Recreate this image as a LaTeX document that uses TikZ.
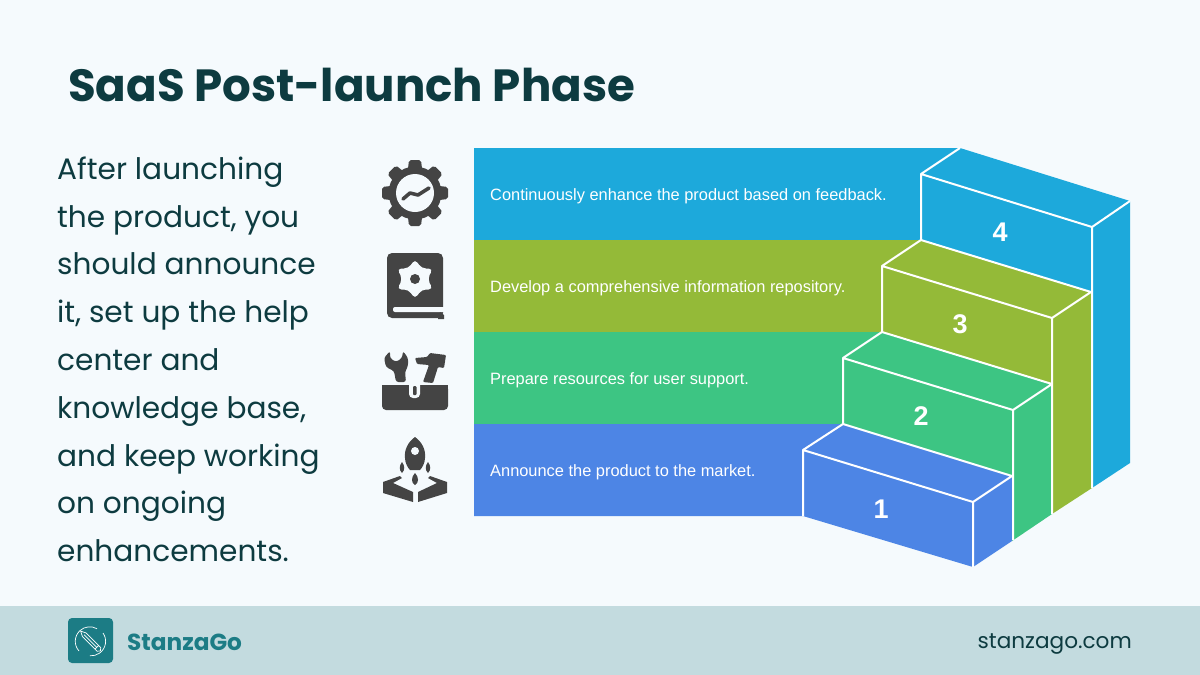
\documentclass[tikz,border=0pt]{standalone}
\usepackage{fontspec}
\setmainfont{Poppins}
\newfontfamily\bandfont{Liberation Sans}
\definecolor{bgc}{HTML}{F5FAFD}
\definecolor{footc}{HTML}{C3DBDF}
\definecolor{inkc}{HTML}{0D3B40}
\definecolor{tealc}{HTML}{1C7C85}
\definecolor{cyanc}{HTML}{1DA9DB}
\definecolor{olivec}{HTML}{94BA38}
\definecolor{greenc}{HTML}{3DC583}
\definecolor{bluec}{HTML}{4D85E5}
\definecolor{iconc}{HTML}{444444}
\tikzset{
  edge/.style={draw=white,line width=2pt,line join=round},
  bandtext/.style={anchor=base west,inner sep=0pt,text=white,font=\bandfont\fontsize{16.4}{16.4}\selectfont},
  numtext/.style={anchor=center,text=white,font=\bandfont\bfseries\fontsize{27}{27}\selectfont},
  icon/.style={fill=iconc,draw=none}
}
\begin{document}
\begin{tikzpicture}[x=1pt,y=-1pt]
\useasboundingbox (0,0) rectangle (1200,675);
\fill[bgc] (0,0) rectangle (1200,675);
\fill[footc] (0,606) rectangle (1200,675);
\node[anchor=base west,inner sep=0pt,text=inkc,font=\bfseries\fontsize{45.1}{45.1}\selectfont] (title) at (68,101) {SaaS Post-launch Phase};
\node[anchor=north west,align=left,inner sep=0pt,text=inkc,font=\fontsize{29.6}{47.8}\selectfont] (body) at (57,156.5) {After launching\\the product, you\\should announce\\it, set up the help\\center and\\knowledge base,\\and keep working\\on ongoing\\enhancements.};
% bands and steps
\fill[cyanc] (474,148) -- (960,148) -- (1130,201) -- (1130,463) -- (1092,488) -- (1092,292) -- (921,240) -- (474,240) -- cycle;
\fill[olivec] (474,240) -- (921,240) -- (1092,292) -- (1092,488) -- (1052,514) -- (1052,384) -- (882,332) -- (474,332) -- cycle;
\fill[greenc] (474,332) -- (882,332) -- (1052,384) -- (1052,514) -- (1012,541) -- (1012,476) -- (843,424) -- (474,424) -- cycle;
\fill[bluec] (474,424) -- (843,424) -- (1012,476) -- (1012,541) -- (973,567) -- (803,516) -- (474,516) -- cycle;
% step 4
\draw[edge] (921,240) -- (921,174) -- (960,148) (921,174) -- (1092,227) -- (1130,201) (1092,227) -- (1092,488);
% step 3
\draw[edge] (882,332) -- (882,266) -- (921,240) -- (1091,292) -- (1052,318) -- (882,266) (1052,318) -- (1052,514);
% step 2
\draw[edge] (843,424) -- (843,358) -- (882,332) -- (1052,384) -- (1013,410) -- (843,358) (1013,410) -- (1013,540);
% step 1
\draw[edge] (803,516) -- (803,450) -- (843,424) -- (1012,476) -- (973,502) -- (803,450) (973,502) -- (973,567);
\node[bandtext] (t4) at (490,200) {Continuously enhance the product based on feedback.};
\node[bandtext] (t3) at (490,292) {Develop a comprehensive information repository.};
\node[bandtext] (t2) at (490,384) {Prepare resources for user support.};
\node[bandtext] (t1) at (490,476) {Announce the product to the market.};
\node[numtext] (n4) at (1000,232) {4};
\node[numtext] (n3) at (960,324) {3};
\node[numtext] (n2) at (921,416) {2};
\node[numtext] (n1) at (881,509) {1};
% gear
\begin{scope}[shift={(415,193)}]
\foreach \a in {0,45,...,315}{
  \fill[iconc,rotate=\a,rounded corners=2pt] (-7.5,-20) -- (-6,-33) -- (6,-33) -- (7.5,-20) -- cycle;
}
\fill[iconc] (0,0) circle (26.5);
\fill[bgc] (0,0) circle (19);
\draw[iconc,line width=3.6pt,line cap=round,line join=round] (-12,6) -- (-5,0) -- (3,2) -- (14,-5);
\end{scope}
% book
\fill[icon,rounded corners=5pt] (387,253) rectangle (443,318);
\fill[bgc,rounded corners=2pt] (393,307) -- (446,307) -- (446,312) -- (393,312) -- cycle;
\fill[iconc] (440,312) -- (444,315) -- (444,319) -- (438,319) -- cycle;
\fill[bgc,rounded corners=4.5pt] (415,259) -- (421.5,268.5) -- (433,268.5) -- (427.5,279) -- (433,289.5) -- (421.5,289.5) -- (415,299) -- (408.5,289.5) -- (397,289.5) -- (402.5,279) -- (397,268.5) -- (408.5,268.5) -- cycle;
\fill[iconc] (415,279) circle (5);
% tools
\fill[icon,rounded corners=4pt] (382,385) -- (448,385) -- (448,410) -- (382,410) -- cycle;
\fill[icon] (382,385) rectangle (448,395);
\fill[bgc,rounded corners=4pt] (409,380) -- (420,380) -- (420,398) -- (409,398) -- cycle;
\fill[iconc,rounded corners=1pt] (413,386) rectangle (416.5,395);
\fill[icon,rounded corners=2.5pt] (390,351) -- (390,358) -- (396,362) -- (402,358) -- (403,351) -- (408,358) -- (408,366) -- (405,372) -- (406,382) -- (396,382) -- (394,371) -- (386,367) -- (384,358) -- cycle;
\fill[icon,rounded corners=1pt] (415,358) -- (427,357) -- (430,353) -- (446,355) -- (444,368) -- (438,367) -- (433,383) -- (423,382) -- (429,365) -- (417,364) -- cycle;
% rocket
\fill[icon] (415,437) .. controls (422,442) and (426,450) .. (425,458) .. controls (425,463) and (422,468) .. (420,470) -- (410,470) .. controls (408,468) and (405,463) .. (405,458) .. controls (404,450) and (408,442) .. (415,437) -- cycle;
\fill[bgc] (415,451) circle (4);
\fill[icon] (402,462) .. controls (399,466) and (399,470) .. (402,473) .. controls (405,470) and (405,466) .. (402,462) -- cycle;
\fill[icon] (428,462) .. controls (425,466) and (425,470) .. (428,473) .. controls (431,470) and (431,466) .. (428,462) -- cycle;
\fill[icon] (415,473) .. controls (411,477) and (411,483) .. (415,485) .. controls (419,483) and (419,477) .. (415,473) -- cycle;
\fill[icon] (383,482) -- (400,476) -- (402,478) -- (393,483) -- (413,492) -- (413,502) -- (383,493) -- cycle;
\fill[icon] (447,482) -- (430,476) -- (428,478) -- (437,483) -- (418,492) -- (418,502) -- (447,493) -- cycle;
% footer
\fill[tealc,rounded corners=4pt] (68,618) rectangle (113,663);
\draw[white,line width=0.7pt] (79,651) arc[start angle=138,end angle=300,radius=14.5];
\draw[white,line width=0.7pt] (103,633) arc[start angle=-35,end angle=95,radius=14.5];
\begin{scope}[shift={(90.5,641)},rotate=-45]
\draw[white,line width=0.7pt,line join=round] (-14,0) -- (-9,-2.5) -- (12,-2.5) -- (14,0) -- (12,2.5) -- (-9,2.5) -- cycle (-9,0) -- (9,0) (9,-2.5) -- (9,2.5);
\end{scope}
\node[anchor=base west,inner sep=0pt,text=tealc,font=\bfseries\fontsize{23.2}{23.2}\selectfont] (brand) at (127,650) {StanzaGo};
\node[anchor=base east,inner sep=0pt,text=inkc,font=\fontsize{21.6}{21.6}\selectfont] (site) at (1132,648) {stanzago.com};
\end{tikzpicture}
\end{document}
